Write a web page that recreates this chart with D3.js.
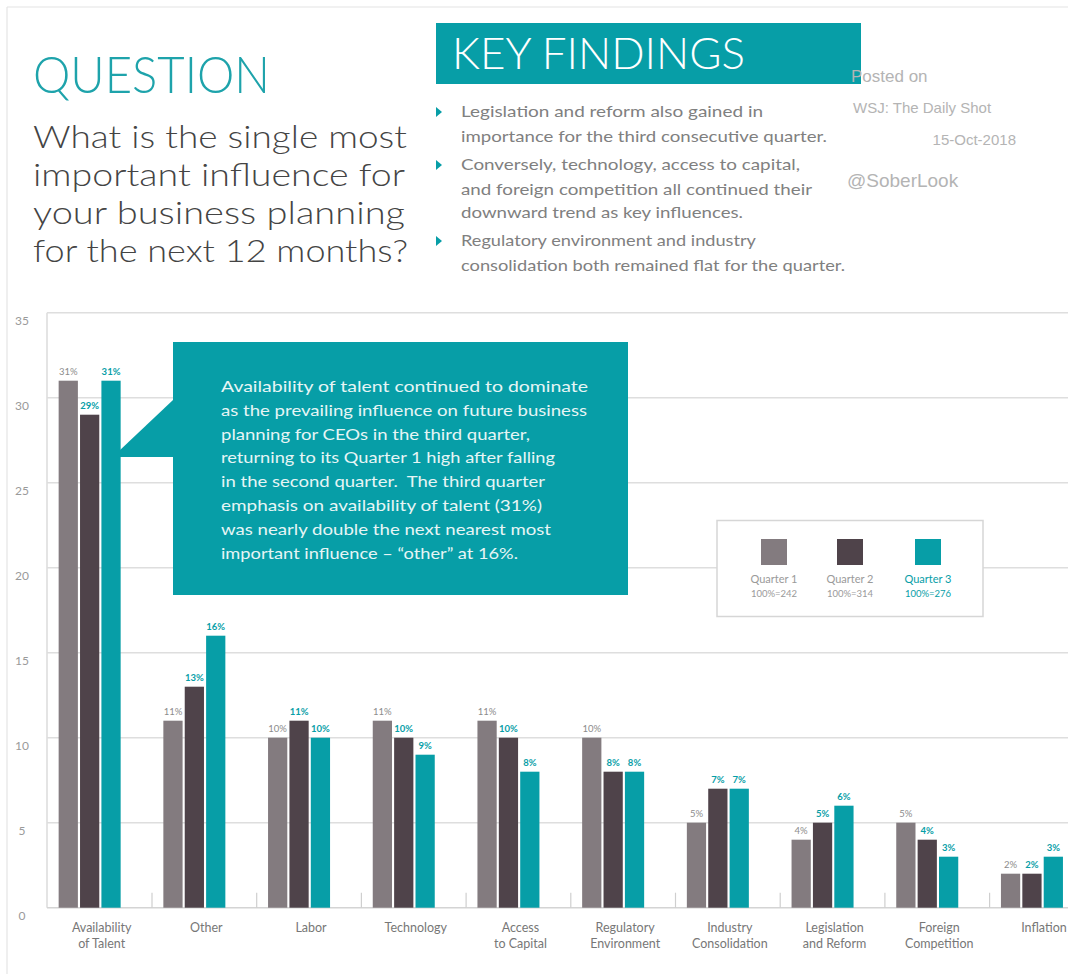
<!DOCTYPE html>
<html><head><meta charset="utf-8">
<script src="https://cdnjs.cloudflare.com/ajax/libs/d3/7.8.5/d3.min.js"></script>
<style>body{margin:0;background:#fff}svg{display:block}</style>
</head><body>
<svg id="chart" width="1068" height="974"></svg>
<script>
// ---- data ----
const categories = [["Availability","of Talent"],["Other"],["Labor"],["Technology"],["Access","to Capital"],["Regulatory","Environment"],["Industry","Consolidation"],["Legislation","and Reform"],["Foreign","Competition"],["Inflation"]];
const quarters = ["Quarter 1","Quarter 2","Quarter 3"];
const quarterN = ["100%=242","100%=314","100%=276"];
const q1 = [31,11,10,11,11,10,5,4,5,2];
const q2 = [29,13,11,10,10,8,7,5,4,2];
const q3 = [31,16,10,9,8,8,7,6,3,3];
const yTicks = [0,5,10,15,20,25,30,35];
const questionLines = ["What is the single most","important influence for","your business planning","for the next 12 months?"];
const findings = [["Legislation and reform also gained in","importance for the third consecutive quarter."],["Conversely, technology, access to capital,","and foreign competition all continued their","downward trend as key influences."],["Regulatory environment and industry","consolidation both remained flat for the quarter."]];
const calloutLines = ["Availability of talent continued to dominate","as the prevailing influence on future business","planning for CEOs in the third quarter,","returning to its Quarter 1 high after falling","in the second quarter.\u00a0 The third quarter","emphasis on availability of talent (31%)","was nearly double the next nearest most","important influence \u2013 \u201cother\u201d at 16%."];

const TEAL = "#079ea7", Q1C = "#837b7f", Q2C = "#4f434a";
const colors = [Q1C, Q2C, TEAL];
const labelColors = ["#8c8c8c", TEAL, TEAL];
const FONT = "Lato, 'Noto Sans', sans-serif";

const svg = d3.select("#chart");
const series = quarters.map((q,i)=>({q, vals:[q1,q2,q3][i]}));
const catKeys = categories.map(c=>c.join(" "));

// outer frame
svg.append("line").attr("x1",7).attr("x2",1068).attr("y1",7).attr("y2",7).attr("stroke","#e4e4e4").attr("stroke-width",1.2);
svg.append("line").attr("x1",7).attr("x2",7).attr("y1",7).attr("y2",974).attr("stroke","#e4e4e4").attr("stroke-width",1.2);

// scales
const y = d3.scaleLinear().domain([0,35]).range([907.7,312.7]);
const x0 = d3.scaleBand().domain(catKeys).range([47.3, 47.3+10*104.7]).padding(0);
const x1 = d3.scaleBand().domain(quarters).range([0,62]).paddingInner(0.1).paddingOuter(0);
const groupStart = c => x0(c) + x0.bandwidth()/2 - 10 - 31;

// gridlines
svg.append("g").selectAll("line").data(yTicks.filter(t=>t>0)).join("line")
  .attr("x1",47).attr("x2",1068).attr("y1",d=>y(d)).attr("y2",d=>y(d))
  .attr("stroke","#dedede").attr("stroke-width",1.6);
svg.append("line").attr("x1",47).attr("x2",47).attr("y1",y(35)).attr("y2",y(0)).attr("stroke","#dedede").attr("stroke-width",1.6);
svg.append("line").attr("x1",47).attr("x2",1068).attr("y1",y(0)).attr("y2",y(0)).attr("stroke","#d4d4d4").attr("stroke-width",1.6);
svg.append("g").selectAll("line").data(catKeys.slice(1)).join("line")
  .attr("x1",d=>x0(d)).attr("x2",d=>x0(d)).attr("y1",y(0)-15).attr("y2",y(0))
  .attr("stroke","#cfcfcf").attr("stroke-width",1.2);

// y tick labels
svg.append("g").selectAll("text").data(yTicks).join("text")
  .attr("x",22).attr("y",d=>y(d)+12).attr("text-anchor","middle")
  .attr("font-family",FONT).attr("font-size",12).attr("fill","#9a9a9a").text(d=>d);

// bars
const groups = svg.append("g").selectAll("g").data(catKeys).join("g")
  .attr("transform",c=>`translate(${groupStart(c)},0)`);
groups.selectAll("rect").data((c,ci)=>series.map((s,si)=>({q:s.q,v:s.vals[ci],si}))).join("rect")
  .attr("x",d=>x1(d.q)).attr("width",x1.bandwidth())
  .attr("y",d=>y(d.v)).attr("height",d=>y(0)-y(d.v))
  .attr("fill",d=>colors[d.si]);
groups.selectAll("text").data((c,ci)=>series.map((s,si)=>({q:s.q,v:s.vals[ci],si}))).join("text")
  .attr("x",d=>x1(d.q)+x1.bandwidth()/2).attr("y",d=>y(d.v)-6)
  .attr("text-anchor","middle").attr("font-family",FONT).attr("font-size",9.5)
  .attr("font-weight",d=>d.si===0?"normal":"bold")
  .attr("fill",d=>labelColors[d.si]).text(d=>d.v+"%");

// category labels
const cl = svg.append("g").selectAll("text").data(categories).join("text")
  .attr("x",(c,i)=>x0(catKeys[i])+x0.bandwidth()/2+2).attr("y",932)
  .attr("text-anchor","middle").attr("font-family",FONT).attr("font-size",12.5).attr("fill","#777");
cl.selectAll("tspan").data(c=>c).join("tspan")
  .attr("x",function(){return this.parentNode.getAttribute("x");})
  .attr("dy",(d,i)=>i===0?0:16).text(d=>d);

// callout box
svg.append("path").attr("d","M173,400 L119,451 L119,457 L173,457 Z").attr("fill",TEAL);
svg.append("rect").attr("x",173).attr("y",342).attr("width",455).attr("height",253).attr("fill",TEAL);
const calloutW = [367,366,309,334,324,321,330,297];
svg.append("g").selectAll("text").data(calloutLines).join("text")
  .attr("x",221).attr("y",(d,i)=>392+i*23.8)
  .attr("font-family",FONT).attr("font-size",15).attr("fill","#e6f5f5")
  .attr("textLength",(d,i)=>calloutW[i]).attr("lengthAdjust","spacingAndGlyphs").text(d=>d);

// legend
svg.append("rect").attr("x",717).attr("y",520.5).attr("width",266).attr("height",96).attr("fill","#fff").attr("stroke","#d6d6d6").attr("stroke-width",1.5);
const legCx = [774,850,928];
const lg = svg.append("g").selectAll("g").data(quarters).join("g");
lg.append("rect").attr("x",(d,i)=>legCx[i]-13).attr("y",539).attr("width",26).attr("height",26).attr("fill",(d,i)=>colors[i]);
lg.append("text").attr("x",(d,i)=>legCx[i]).attr("y",583).attr("text-anchor","middle")
  .attr("font-family",FONT).attr("font-size",11).attr("fill",(d,i)=>i===2?TEAL:"#9a9a9a").text(d=>d);
lg.append("text").attr("x",(d,i)=>legCx[i]).attr("y",597).attr("text-anchor","middle")
  .attr("font-family",FONT).attr("font-size",9.5).attr("fill",(d,i)=>i===2?TEAL:"#9a9a9a").text((d,i)=>quarterN[i]);

// QUESTION header
svg.append("text").attr("x",33).attr("y",93).attr("font-family",FONT).attr("font-size",52).attr("font-weight",300)
  .attr("fill","#1ea3ab").attr("textLength",237).attr("lengthAdjust","spacingAndGlyphs").text("QUESTION");
const qW = [374,372,372,375];
svg.append("g").selectAll("text").data(questionLines).join("text")
  .attr("x",33).attr("y",(d,i)=>148+i*38).attr("font-family",FONT).attr("font-size",31).attr("font-weight",300)
  .attr("fill","#444").attr("textLength",(d,i)=>qW[i]).attr("lengthAdjust","spacingAndGlyphs").text(d=>d);

// KEY FINDINGS
svg.append("rect").attr("x",436).attr("y",23).attr("width",425).attr("height",61).attr("fill",TEAL);
svg.append("text").attr("x",452).attr("y",69).attr("font-family",FONT).attr("font-size",43).attr("font-weight",300)
  .attr("fill","#fff").attr("textLength",293).attr("lengthAdjust","spacingAndGlyphs").text("KEY FINDINGS");
const lineY = [[117,142],[170,195,218],[246,271]];
const lineW = [[302,366],[339,351,282],[295,384]];
const fg = svg.append("g").selectAll("g").data(findings).join("g");
fg.append("path").attr("d",(d,i)=>`M436,${lineY[i][0]-10} L442,${lineY[i][0]-5} L436,${lineY[i][0]} Z`).attr("fill",TEAL);
fg.selectAll("text").data((d,i)=>d.map((t,j)=>({t,y:lineY[i][j],w:lineW[i][j]}))).join("text")
  .attr("x",461).attr("y",d=>d.y).attr("font-family",FONT).attr("font-size",15).attr("fill","#808080")
  .attr("textLength",d=>d.w).attr("lengthAdjust","spacingAndGlyphs").text(d=>d.t);

// Posted on
const PF = "'Liberation Sans', Arial, sans-serif";
svg.append("text").attr("x",851).attr("y",82).attr("font-family",PF).attr("font-size",17).attr("fill","#b4b4b4").text("Posted on");
svg.append("text").attr("x",853).attr("y",113).attr("font-family",PF).attr("font-size",15).attr("fill","#b4b4b4").text("WSJ: The Daily Shot");
svg.append("text").attr("x",1016).attr("y",145).attr("text-anchor","end").attr("font-family",PF).attr("font-size",15).attr("fill","#b4b4b4").text("15-Oct-2018");
svg.append("text").attr("x",847).attr("y",187).attr("font-family",PF).attr("font-size",19).attr("fill","#b4b4b4").text("@SoberLook");
</script>
</body></html>
